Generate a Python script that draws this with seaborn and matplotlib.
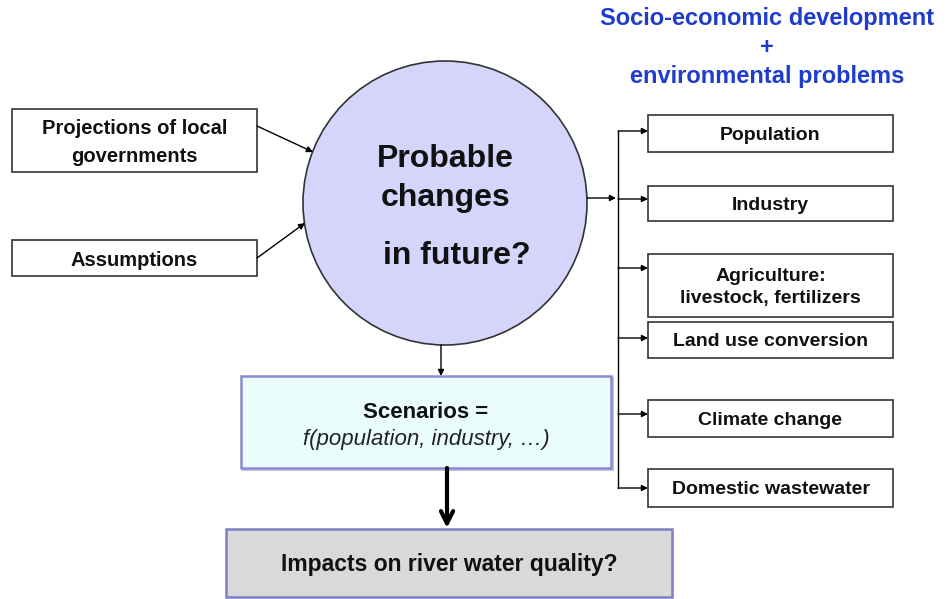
"""
Flow diagram: probable future changes and river water quality scenarios.
"""

import matplotlib
matplotlib.use('Agg')  # Use non-interactive backend
import matplotlib.pyplot as plt  # noqa: E402
import seaborn as sns  # noqa: E402
from matplotlib.patches import Circle, Rectangle  # noqa: E402

# --- content -------------------------------------------------------------
header_lines = ['Socio-economic development', '+', 'environmental problems']
input_labels = ['Projections of local\ngovernments', 'Assumptions']
center_lines = ['Probable', 'changes', 'in future?']
driver_labels = ['Population', 'Industry', 'Agriculture:\nlivestock, fertilizers',
                 'Land use conversion', 'Climate change', 'Domestic wastewater']
scenario_title = 'Scenarios ='
scenario_formula = 'f(population, industry, \u2026)'
impact_label = 'Impacts on river water quality?'

# --- layout (pixel space of a 947 x 599 canvas) --------------------------
W, H = 947, 599
input_boxes = [(12, 109, 245, 63), (12, 240, 245, 36)]     # x, y, w, h
input_arrows = [((257, 126), (313, 152)), ((257, 258), (305, 223))]
circle_xy, circle_r = (445, 203), 142
center_text_y = [159, 198, 256]
center_text_x = [445, 446, 457]
driver_x, driver_w = 648, 245
driver_boxes_y = [(115, 37), (186, 35), (254, 63), (322, 36), (400, 37), (469, 38)]
arrow_y = [131, 199, 268, 338, 414, 488]
branch_x = 618
scen_box = (241, 376, 370, 92)
impact_box = (226, 529, 446, 68)

sns.set_theme(style='white')
plt.rcParams['font.family'] = ['Liberation Sans', 'DejaVu Sans']

fig = plt.figure(figsize=(W / 100, H / 100), dpi=100)
ax = fig.add_axes([0, 0, 1, 1])
ax.set_xlim(0, W)
ax.set_ylim(H, 0)
ax.axis('off')

small_arrow = dict(arrowstyle='-|>', color='black', lw=1, mutation_scale=9,
                   shrinkA=0, shrinkB=0)

# header in blue
for text, y in zip(header_lines, [19, 47, 77]):
    ax.text(767, y, text, ha='center', va='center', fontsize=17,
            fontweight='bold', color='#1f3ccc')

# input boxes and arrows into the circle
for (x, y, w, h), label, (start, end) in zip(input_boxes, input_labels,
                                             input_arrows):
    ax.add_patch(Rectangle((x, y), w, h, facecolor='white',
                           edgecolor='#333333', lw=1.2))
    ax.text(x + w / 2, y + h / 2 + 2, label, ha='center', va='center',
            fontsize=14.5, fontweight='bold', linespacing=1.6,
            color='#111111')
    ax.annotate('', xy=end, xytext=start, arrowprops=small_arrow)

# central circle
ax.add_patch(Circle(circle_xy, circle_r, facecolor='#d5d5fc',
                    edgecolor='#333333', lw=1.2))
for text, x, y in zip(center_lines, center_text_x, center_text_y):
    ax.text(x, y, text, ha='center', va='center', fontsize=23,
            fontweight='bold', color='#111111')

# driver boxes on the right with branching connector
cx, cy = circle_xy
ax.annotate('', xy=(branch_x - 2, 198), xytext=(cx + circle_r, 198),
            arrowprops=small_arrow)
ax.plot([branch_x, branch_x], [arrow_y[0], arrow_y[-1]], color='black', lw=1)
for (y, h), label, ay in zip(driver_boxes_y, driver_labels, arrow_y):
    ax.add_patch(Rectangle((driver_x, y), driver_w, h, facecolor='white',
                           edgecolor='#333333', lw=1.2))
    ax.text(driver_x + driver_w / 2, y + h / 2 + 2, label, ha='center',
            va='center', fontsize=14, fontweight='bold', linespacing=1.45,
            color='#111111')
    ax.annotate('', xy=(driver_x, ay), xytext=(branch_x, ay),
                arrowprops=small_arrow)

# circle -> scenarios
ax.annotate('', xy=(441, scen_box[1]), xytext=(441, cy + circle_r),
            arrowprops=small_arrow)

# scenarios box
sx, sy, sw, sh = scen_box
ax.add_patch(Rectangle((sx + 2, sy + 2), sw, sh, facecolor='none',
                       edgecolor='#c8c8d8', lw=1.5))
ax.add_patch(Rectangle((sx, sy), sw, sh, facecolor='#e9fdfd',
                       edgecolor='#8a8ad0', lw=1.8))
ax.text(sx + sw / 2, 412, scenario_title, ha='center', va='center',
        fontsize=16, fontweight='bold', color='#111111')
ax.text(sx + sw / 2, 440, scenario_formula, ha='center', va='center',
        fontsize=16, style='italic', color='#222222')

# thick arrow to impacts
ax.annotate('', xy=(447, impact_box[1] - 1), xytext=(447, sy + sh),
            arrowprops=dict(arrowstyle='->', color='black', lw=3,
                            mutation_scale=22, shrinkA=0, shrinkB=0))

# impacts box
ix, iy, iw, ih = impact_box
ax.add_patch(Rectangle((ix, iy), iw, ih, facecolor='#d9d9d9',
                       edgecolor='#7f7fc4', lw=1.8))
ax.text(ix + iw / 2, iy + ih / 2 + 2, impact_label, ha='center',
        va='center', fontsize=16.5, fontweight='bold', color='#111111')

plt.savefig('out.png', dpi=100)
plt.close()
